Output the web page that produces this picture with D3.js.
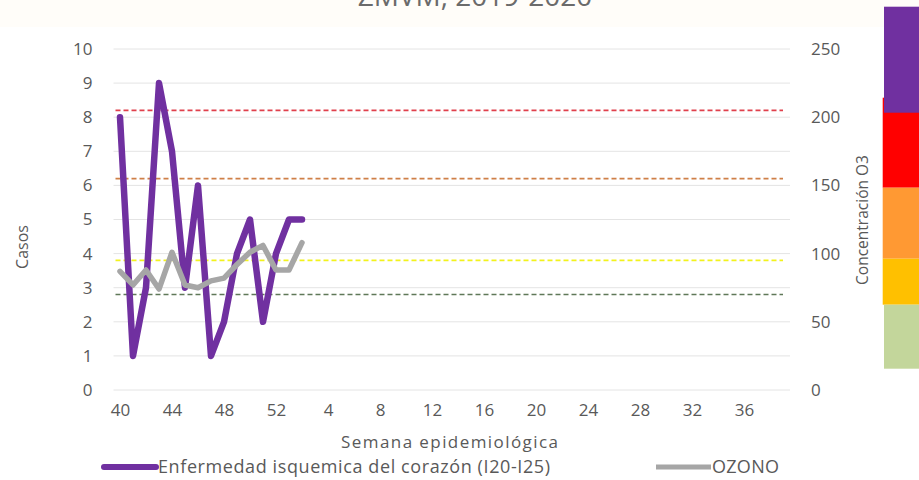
<!DOCTYPE html>
<html><head><meta charset="utf-8">
<script src="https://cdn.jsdelivr.net/npm/d3@7"></script>
<style>
body{margin:0;background:#ffffff;}
svg{display:block;font-family:"Open Sans",sans-serif;}
</style>
</head><body>
<svg id="chart" width="919" height="480"></svg>
<script>
// ---- data ----
const weeks = [40,41,42,43,44,45,46,47,48,49,50,51,52,
  1,2,3,4,5,6,7,8,9,10,11,12,13,14,15,16,17,18,19,20,21,22,23,24,25,26,27,28,29,30,31,32,33,34,35,36,37,38,39];
const casos = [8,1,3,9,7,3,6,1,2,4,5,2,4,5,5];
const ozono = [87,77,88,74,101,77,75,80,82,92,101,106,88,88,108];
const leftTicks = [0,1,2,3,4,5,6,7,8,9,10];
const rightTicks = [0,50,100,150,200,250];
const xTickLabels = [40,44,48,52,4,8,12,16,20,24,28,32,36];
const thresholdValues = [205,155,95,70];
const thresholdColors = ["#e0404c","#cf8048","#f2f21c","#5f7858"];
const stripColors = ["#c3d69b","#ffc000","#ff9933","#ff0000","#7030a0"];
const stripBreaks = [0,64,110,181,256,362]; // relative sizes of the quality strip
const seriesNames = ["Enfermedad isquemica del corazón (I20-I25)","OZONO"];
const title = "ZMVM, 2019-2020";

// ---- layout ----
const svg = d3.select("#chart");
const pL = 113.5, pR = 790, pT = 49, pB = 390;
const txt = "#595959";

svg.append("rect").attr("width",919).attr("height",480).attr("fill","#ffffff");
svg.append("rect").attr("width",919).attr("height",27).attr("fill","#fffdf9");

const x = d3.scalePoint().domain(weeks).range([120, 783]);
const yL = d3.scaleLinear().domain([0,10]).range([pB, pT]);
const yR = d3.scaleLinear().domain([0,250]).range([pB, pT]);

// title (cropped at the top, as in the source image)
svg.append("text").attr("x",475).attr("y",6).attr("text-anchor","middle")
  .attr("font-size",28).attr("fill","#6b6b6b").text(title);

// gridlines
svg.append("g").selectAll("line").data(leftTicks).join("line")
  .attr("x1",pL).attr("x2",pR)
  .attr("y1",d=>yL(d)).attr("y2",d=>yL(d))
  .attr("stroke","#e4e4e4").attr("stroke-width",1);

// left axis
const gL = svg.append("g").attr("transform",`translate(${pL},0)`)
  .call(d3.axisLeft(yL).tickValues(leftTicks).tickSize(0).tickPadding(21));
gL.select(".domain").remove();
gL.selectAll("text").attr("font-size",17).attr("fill",txt).attr("font-family","Open Sans");

// right axis
const gR = svg.append("g").attr("transform",`translate(${pR},0)`)
  .call(d3.axisRight(yR).tickValues(rightTicks).tickSize(0).tickPadding(21));
gR.select(".domain").remove();
gR.selectAll("text").attr("font-size",17).attr("fill",txt).attr("font-family","Open Sans");

// bottom axis
const gB = svg.append("g").attr("transform",`translate(0,${pB})`)
  .call(d3.axisBottom(x).tickValues(xTickLabels).tickSize(0).tickPadding(14));
gB.select(".domain").remove();
gB.selectAll("text").attr("font-size",17).attr("fill",txt).attr("font-family","Open Sans");

// threshold dashed lines
svg.append("g").selectAll("line").data(thresholdValues).join("line")
  .attr("x1",pL+2).attr("x2",783)
  .attr("y1",d=>yR(d)).attr("y2",d=>yR(d))
  .attr("stroke",(d,i)=>thresholdColors[i]).attr("stroke-width",1.6)
  .attr("stroke-dasharray","5,3");

// series lines
const lineL = d3.line().x((d,i)=>x(weeks[i])).y(d=>yL(d));
const lineR = d3.line().x((d,i)=>x(weeks[i])).y(d=>yR(d));
svg.append("path").datum(casos).attr("d",lineL).attr("fill","none")
  .attr("stroke","#7030a0").attr("stroke-width",6.5).attr("stroke-linejoin","round").attr("stroke-linecap","round");
svg.append("path").datum(ozono).attr("d",lineR).attr("fill","none")
  .attr("stroke","#a6a6a6").attr("stroke-width",5.5).attr("stroke-linejoin","round").attr("stroke-linecap","round");

// axis titles
svg.append("text").attr("transform","translate(28,247) rotate(-90)").attr("text-anchor","middle")
  .attr("font-size",16).attr("fill",txt).text("Casos");
svg.append("text").attr("transform","translate(868,220) rotate(-90)").attr("text-anchor","middle")
  .attr("font-size",15.5).attr("fill",txt).text("Concentración O3");
svg.append("text").attr("x",341).attr("y",448)
  .attr("font-size",17).attr("fill",txt)
  .attr("textLength",217).attr("lengthAdjust","spacing").text("Semana epidemiológica");

// legend
const leg = svg.append("g");
leg.append("line").attr("x1",104).attr("x2",156).attr("y1",467).attr("y2",467)
  .attr("stroke","#7030a0").attr("stroke-width",6).attr("stroke-linecap","round");
leg.append("text").attr("x",158).attr("y",473).attr("font-size",18).attr("fill",txt)
  .attr("textLength",392).attr("lengthAdjust","spacing").text(seriesNames[0]);
leg.append("line").attr("x1",656).attr("x2",711).attr("y1",467).attr("y2",467)
  .attr("stroke","#a6a6a6").attr("stroke-width",5);
leg.append("text").attr("x",712).attr("y",473).attr("font-size",18).attr("fill",txt)
  .attr("textLength",67).attr("lengthAdjust","spacing").text(seriesNames[1]);

// air-quality colour strip at the right
const s = d3.scaleLinear().domain([0,362]).range([368.7, 6.7]);
const stripOrder = [3,2,1,0,4];
svg.append("g").selectAll("rect").data(stripOrder).join("rect")
  .attr("x",d=> (d===0||d===4) ? 884 : 882.7)
  .attr("width",d=> (d===0||d===4) ? 35 : 36.3)
  .attr("y",d=> d===3 ? s(stripBreaks[4])-15 : s(stripBreaks[d+1]))
  .attr("height",d=> d===3 ? s(stripBreaks[3]) - s(stripBreaks[4]) + 15 : s(stripBreaks[d]) - s(stripBreaks[d+1]))
  .attr("fill",d=>stripColors[d]);
</script>
</body></html>
